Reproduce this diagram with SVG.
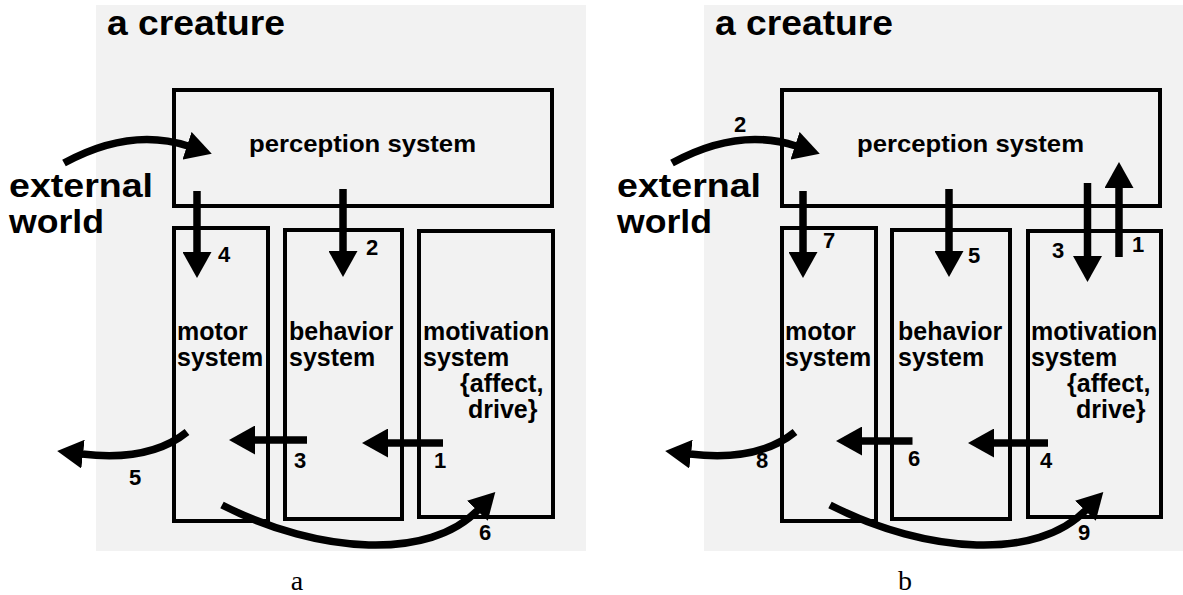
<svg xmlns="http://www.w3.org/2000/svg" width="1183" height="595" viewBox="0 0 1183 595">
<style>
.bg{fill:#f2f2f2}
.box{fill:none;stroke:#000;stroke-width:4}
.t{font-family:"Liberation Sans",Arial,sans-serif;font-weight:bold;fill:#000}
.title{font-size:35px}
.ext{font-size:33px}
.lbl{font-size:24px}
.bx{font-size:25px}
.num{font-size:22px}
.cap{font-family:"Liberation Serif","Times New Roman",serif;font-size:28px;fill:#000}
.arr{fill:none;stroke:#000;stroke-width:7.5;marker-end:url(#ah)}
</style>
<defs>
<marker id="ah" markerUnits="userSpaceOnUse" viewBox="0 0 26 29" markerWidth="26" markerHeight="29" refX="1" refY="14.5" orient="auto">
<path d="M0,0 L26,14.5 L0,29 z" fill="#000"/>
</marker>
</defs>

<!-- Panel a -->
<g id="panel-a">
<rect class="bg" x="96" y="5" width="490" height="546"/>
<text class="t title" x="107" y="35" textLength="178" lengthAdjust="spacingAndGlyphs">a creature</text>
<text class="t ext" x="9" y="197" textLength="144" lengthAdjust="spacingAndGlyphs">external</text>
<text class="t ext" x="9" y="233" textLength="95" lengthAdjust="spacingAndGlyphs">world</text>
<text class="cap" x="297" y="590" text-anchor="middle">a</text>
</g>
<g id="a-perception">
<rect class="box" x="174" y="90" width="378" height="116"/>
<text class="t lbl" x="249" y="152" textLength="227" lengthAdjust="spacingAndGlyphs">perception system</text>
</g>
<g id="a-motor">
<text class="t bx" x="177" y="340">motor</text>
<text class="t bx" x="177" y="366">system</text>
<rect class="box" x="174" y="228" width="94" height="293"/>
</g>
<g id="a-behavior">
<text class="t bx" x="289" y="340">behavior</text>
<text class="t bx" x="289" y="366">system</text>
<rect class="box" x="285" y="230" width="117" height="289"/>
</g>
<g id="a-motivation">
<text class="t bx" x="423" y="340">motivation</text>
<text class="t bx" x="423" y="366">system</text>
<text class="t bx" x="460" y="392">{affect,</text>
<text class="t bx" x="468" y="418">drive}</text>
<rect class="box" x="419" y="231" width="134" height="286"/>
</g>
<g id="a-connectors">
<path class="arr" d="M64,163 Q130,127 188,146"/>
<path class="arr" d="M197,191 V253"/>
<path class="arr" d="M343,189 V252"/>
<path class="arr" d="M307,440 H254"/>
<path class="arr" d="M443,443 H387"/>
<path class="arr" d="M187,432 Q150,462 82,454"/>
<path class="arr" d="M222,505 C320,555 430,560 478,510"/>
<text class="t num" x="218" y="262">4</text>
<text class="t num" x="366" y="255">2</text>
<text class="t num" x="294" y="468">3</text>
<text class="t num" x="434" y="468">1</text>
<text class="t num" x="129" y="485">5</text>
<text class="t num" x="479" y="540">6</text>
</g>

<!-- Panel b -->
<g id="panel-b">
<rect class="bg" x="704" y="5" width="479" height="546"/>
<text class="t title" x="715" y="35" textLength="178" lengthAdjust="spacingAndGlyphs">a creature</text>
<text class="t ext" x="617" y="197" textLength="144" lengthAdjust="spacingAndGlyphs">external</text>
<text class="t ext" x="617" y="233" textLength="95" lengthAdjust="spacingAndGlyphs">world</text>
<text class="cap" x="905" y="590" text-anchor="middle">b</text>
</g>
<g id="b-perception">
<rect class="box" x="782" y="90" width="378" height="116"/>
<text class="t lbl" x="857" y="152" textLength="227" lengthAdjust="spacingAndGlyphs">perception system</text>
</g>
<g id="b-motor">
<text class="t bx" x="785" y="340">motor</text>
<text class="t bx" x="785" y="366">system</text>
<rect class="box" x="782" y="228" width="94" height="293"/>
</g>
<g id="b-behavior">
<text class="t bx" x="898" y="340">behavior</text>
<text class="t bx" x="898" y="366">system</text>
<rect class="box" x="892" y="230" width="118" height="289"/>
</g>
<g id="b-motivation">
<text class="t bx" x="1031" y="340">motivation</text>
<text class="t bx" x="1031" y="366">system</text>
<text class="t bx" x="1067" y="392">{affect,</text>
<text class="t bx" x="1076" y="418">drive}</text>
<rect class="box" x="1028" y="231" width="133" height="286"/>
</g>
<g id="b-connectors">
<path class="arr" d="M672,163 Q738,127 796,146"/>
<path class="arr" d="M803,191 V253"/>
<path class="arr" d="M949,189 V252"/>
<path class="arr" d="M1087.5,183 V257"/>
<path class="arr" d="M1119,257 V187"/>
<path class="arr" d="M912.5,441 H861"/>
<path class="arr" d="M1048,443 H993"/>
<path class="arr" d="M795,432 Q758,462 690,454"/>
<path class="arr" d="M830,505 C928,555 1038,560 1086,510"/>
<text class="t num" x="734" y="132">2</text>
<text class="t num" x="823" y="248">7</text>
<text class="t num" x="968" y="263">5</text>
<text class="t num" x="1052" y="258">3</text>
<text class="t num" x="1132" y="252">1</text>
<text class="t num" x="908" y="466">6</text>
<text class="t num" x="1040" y="468">4</text>
<text class="t num" x="756" y="468">8</text>
<text class="t num" x="1078" y="540">9</text>
</g>
</svg>
